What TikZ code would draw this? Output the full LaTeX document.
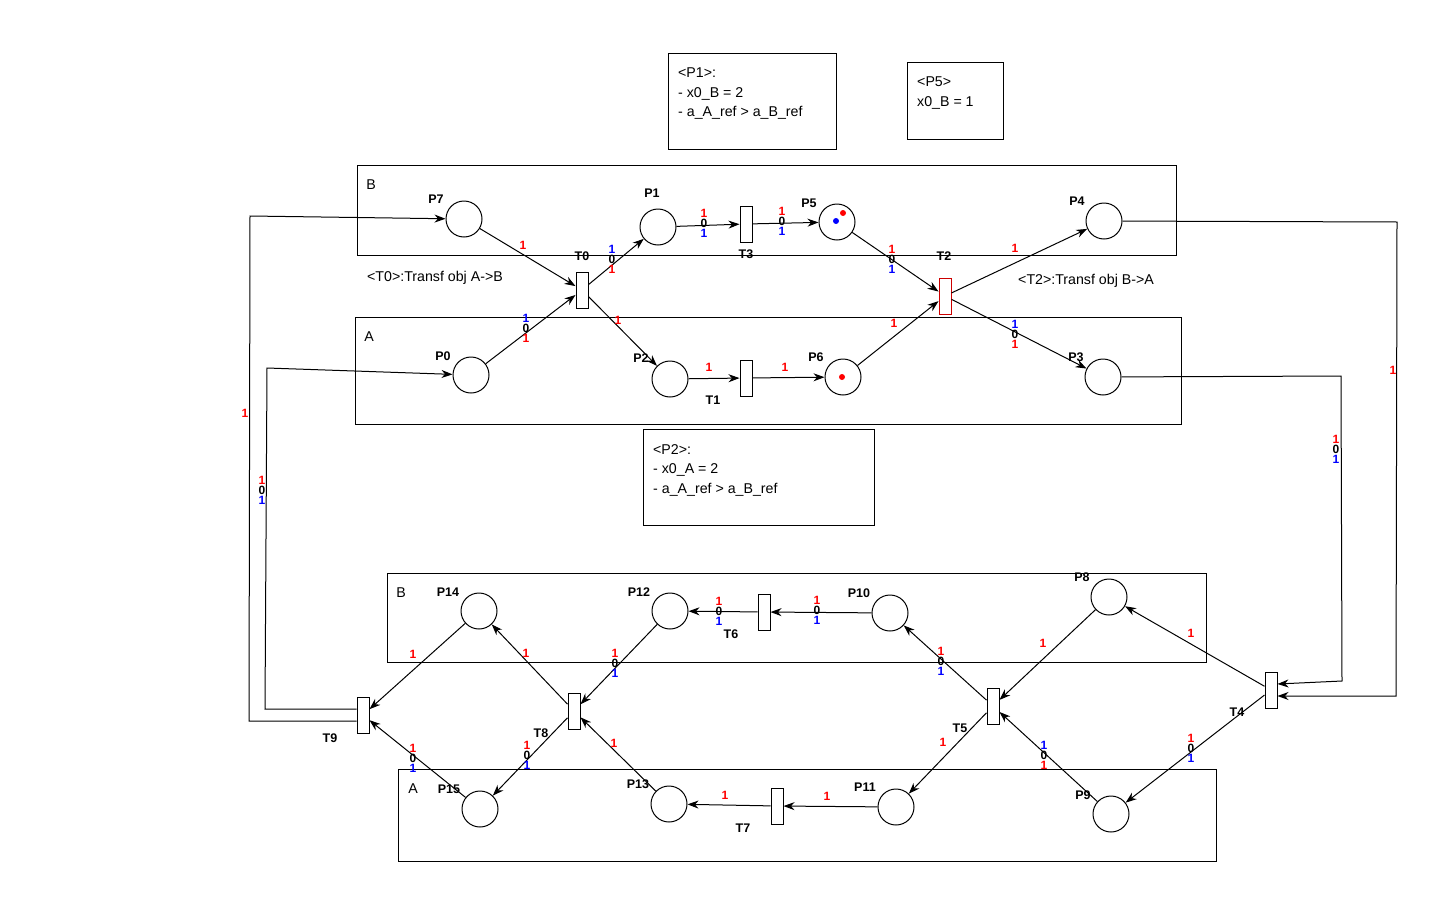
\documentclass[tikz,border=0pt]{standalone}
\usepackage{fontspec}
\setmainfont{Liberation Sans}
\usepackage{xcolor}
\usetikzlibrary{arrows.meta}

\tikzset{
	place/.style={circle,draw,line width=1pt,minimum size=36pt,inner sep=0pt},
	trans/.style={rectangle,draw,fill=white,line width=1pt,minimum width=12pt,minimum height=36pt,inner sep=0pt},
	arc/.style={line width=1pt,-{Stealth[length=11pt,width=8pt,inset=3.5pt]}},
	plabel/.style={font=\bfseries\fontsize{12.5}{14}\selectfont,inner sep=0pt},
	wt/.style={font=\bfseries\fontsize{12}{12}\selectfont,inner sep=0pt},
	lane/.style={draw,line width=1pt},
	txt/.style={font=\fontsize{14.2}{19.5}\selectfont,inner sep=0pt,align=left}
}

% weight stack 1/0/1 : name, x, y, top colour, bottom colour
\newcommand{\wstack}[5]{%
	\node[wt,text=#4] (#1a) at (#2,#3-10) {1};
	\node[wt] (#1b) at (#2,#3) {0};
	\node[wt,text=#5] (#1c) at (#2,#3+10) {1};}

\begin{document}
\begin{tikzpicture}[x=1pt,y=-1pt]
\useasboundingbox (0,0) rectangle (1433,913);

% notes
\node[draw,line width=1pt,minimum width=168pt,minimum height=96pt,anchor=north west] (noteP1) at (668,53) {};
\node[txt,anchor=north west] (noteP1t) at (678,68) {<P1>:\\- x0\_B = 2\\- a\_A\_ref > a\_B\_ref};
\node[draw,line width=1pt,minimum width=96pt,minimum height=77pt,anchor=north west] (noteP5) at (907,62) {};
\node[txt,anchor=north west] (noteP5t) at (917,77) {<P5>\\x0\_B = 1};
\node[draw,line width=1pt,minimum width=231pt,minimum height=96pt,anchor=north west] (noteP2) at (643,429) {};
\node[txt,anchor=north west] (noteP2t) at (653,444) {<P2>:\\- x0\_A = 2\\- a\_A\_ref > a\_B\_ref};
\node[txt,anchor=west] (noteT0) at (367,278) {<T0>:Transf obj A->B};
\node[txt,anchor=west] (noteT2) at (1018,281) {<T2>:Transf obj B->A};

% lanes
\draw[lane] (357,165) rectangle (1176,255);
\draw[lane] (355,317) rectangle (1181,424);
\draw[lane] (387,573) rectangle (1206,662);
\draw[lane] (398,769) rectangle (1216,861);
\node[txt] (laneB1) at (371,185) {B};
\node[txt] (laneA1) at (369,337) {A};
\node[txt] (laneB2) at (401,593) {B};
\node[txt] (laneA2) at (413,789) {A};

% places
\node[place] (P7) at (464,219) {};
\node[place] (P1) at (658,227) {};
\node[place] (P5) at (837,222) {};
\node[place] (P4) at (1104,221) {};
\node[place] (P0) at (471,375) {};
\node[place] (P2) at (670,379) {};
\node[place] (P6) at (843,377) {};
\node[place] (P3) at (1103,377) {};
\node[place] (P14) at (479,611) {};
\node[place] (P12) at (670,611) {};
\node[place] (P10) at (890,613) {};
\node[place] (P8) at (1109,597) {};
\node[place] (P15) at (480,809) {};
\node[place] (P13) at (669,804) {};
\node[place] (P11) at (896,807) {};
\node[place] (P9) at (1111,814) {};

% tokens
\fill[red] (843,213) circle (3pt);
\fill[blue] (836,221) circle (3pt);
\fill[red] (842,377) circle (3pt);

% transitions
\node[trans] (T0) at (582,290) {};
\node[trans] (T3) at (746,224) {};
\node[trans,draw=red!80!black] (T2) at (945,296) {};
\node[trans] (T1) at (746,378) {};
\node[trans] (T6) at (764,612) {};
\node[trans] (T8) at (574,711) {};
\node[trans] (T5) at (993,706) {};
\node[trans] (T9) at (363,715) {};
\node[trans] (T7) at (777,806) {};
\node[trans] (T4) at (1271,690) {};

% labels
\foreach \n/\x/\y in {P7/436/199,P1/652/193,P5/809/203,P4/1077/201,P0/443/356,P2/641/358,
	P6/816/357,P3/1076/357,P14/448/592,P12/639/592,P10/859/593,P8/1082/577,
	P15/449/789,P13/638/784,P11/865/787,P9/1083/795,
	T0/582/256,T3/746/254,T2/944/256,T1/713/400,T6/731/634,T8/541/733,
	T5/960/728,T9/330/738,T7/743/828,T4/1237/712}
	\node[plabel] (l\n) at (\x,\y) {\n};

% arcs, upper net
\draw[arc] (P7) -- (T0);
\draw[arc] (P0) -- (T0);
\draw[arc] (T0) -- (P1);
\draw[arc] (T0) -- (P2);
\draw[arc] (P1) -- (T3);
\draw[arc] (T3) -- (P5);
\draw[arc] (P5) -- (T2);
\draw[arc] (P6) -- (T2);
\draw[arc] (T2) -- (P4);
\draw[arc] (T2) -- (P3);
\draw[arc] (P2) -- (T1);
\draw[arc] (T1) -- (P6);

% long arcs
\draw[arc] (P4) -- (1397,222) -- (1396,696) -- ([yshift=-6pt]T4.east);
\draw[arc] (P3) -- (1341,376) -- (1342,681) -- ([yshift=6pt]T4.east);
\draw[arc] ([yshift=-6pt]T9.west) -- (249,721) -- (250,216) -- (P7);
\draw[arc] ([yshift=6pt]T9.west) -- (265,709) -- (267,368) -- (P0);

% arcs, lower net
\draw[arc] (T4) -- (P8);
\draw[arc] (T4) -- (P9);
\draw[arc] (P8) -- (T5);
\draw[arc] (P9) -- (T5);
\draw[arc] (T5) -- (P10);
\draw[arc] (T5) -- (P11);
\draw[arc] (P10) -- (T6);
\draw[arc] (T6) -- (P12);
\draw[arc] (P11) -- (T7);
\draw[arc] (T7) -- (P13);
\draw[arc] (P12) -- (T8);
\draw[arc] (P13) -- (T8);
\draw[arc] (T8) -- (P14);
\draw[arc] (T8) -- (P15);
\draw[arc] (P14) -- (T9);
\draw[arc] (P15) -- (T9);

% weights
\foreach \n/\x/\y in {a/523/245,b/618/320,c/894/323,d/1015/248,e/709/367,f/785/367,
	g/245/413,h/1393/370,i/413/654,j/526/653,k/614/743,l/725/795,
	m/1043/643,n/1191/633,o/943/742,p/827/796}
	\node[wt,text=red] (w\n) at (\x,\y) {1};
\wstack{s1}{526}{328}{blue}{red}
\wstack{s2}{612}{259}{blue}{red}
\wstack{s3}{704}{223}{red}{blue}
\wstack{s4}{782}{221}{red}{blue}
\wstack{s5}{892}{259}{red}{blue}
\wstack{s6}{1015}{334}{blue}{red}
\wstack{s7}{262}{490}{red}{blue}
\wstack{s8}{1336}{449}{red}{blue}
\wstack{s9}{719}{611}{red}{blue}
\wstack{s10}{817}{610}{red}{blue}
\wstack{s11}{615}{663}{red}{blue}
\wstack{s12}{941}{661}{red}{blue}
\wstack{s13}{413}{758}{red}{blue}
\wstack{s14}{527}{755}{red}{blue}
\wstack{s15}{1044}{755}{blue}{red}
\wstack{s16}{1191}{748}{red}{blue}
\end{tikzpicture}
\end{document}
